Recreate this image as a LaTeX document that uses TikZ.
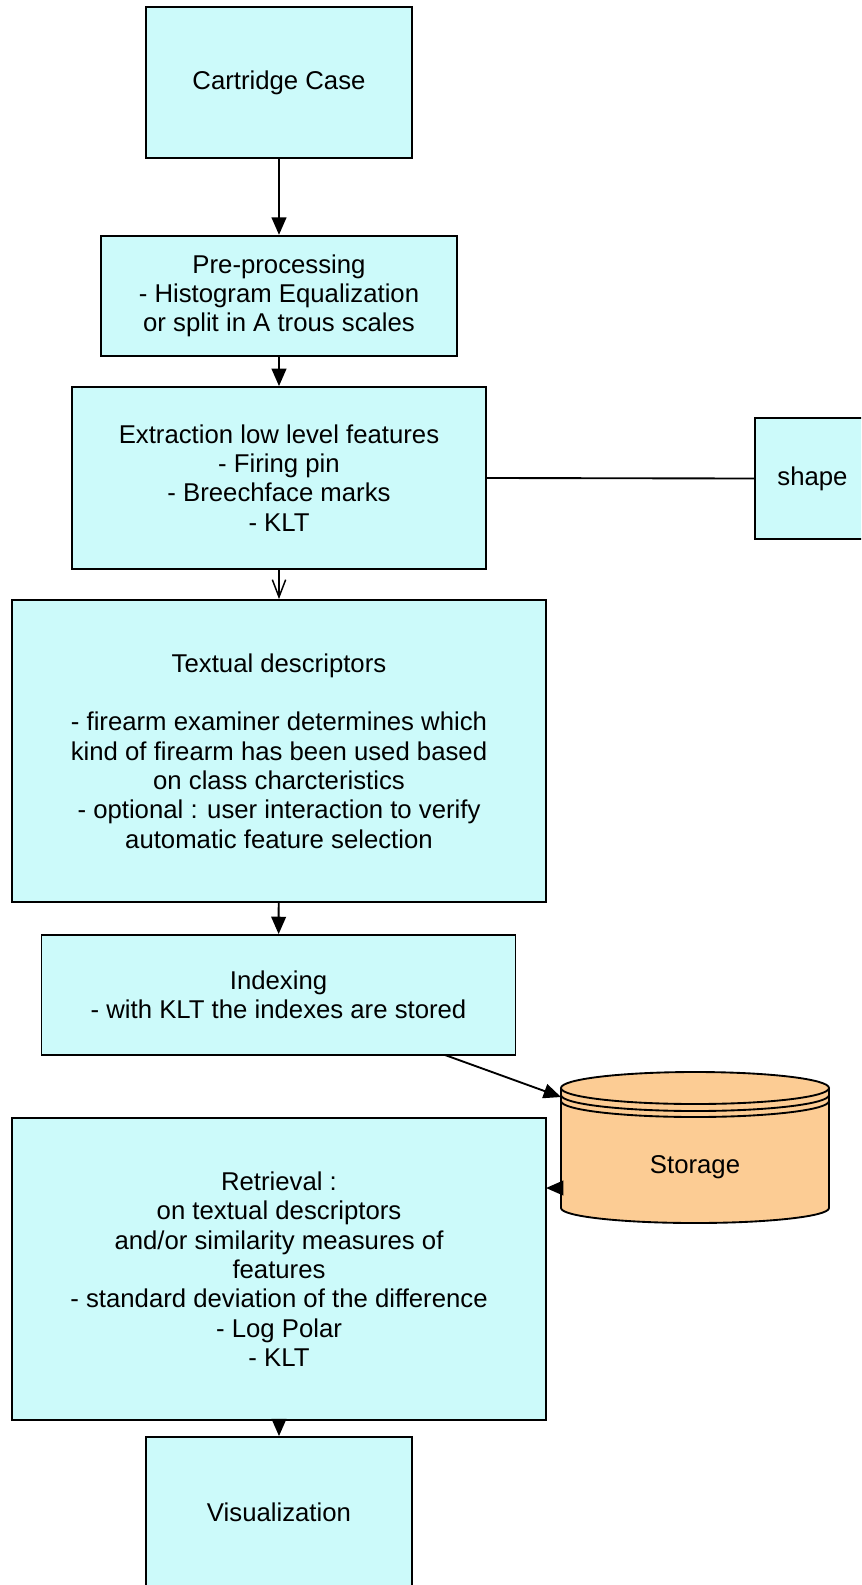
\documentclass[tikz,border=0pt]{standalone}
\usepackage{fontspec}
\setmainfont{Liberation Sans}
\usetikzlibrary{arrows.meta,calc}
\definecolor{boxfill}{RGB}{204,250,250}
\definecolor{storefill}{RGB}{252,204,148}
\begin{document}
\begin{tikzpicture}[x=0.75pt,y=-0.75pt,
  box/.style={draw=black,line width=1.4pt,fill=boxfill,rectangle,align=center,inner sep=0pt,
    font=\fontsize{19.3}{22}\selectfont},
  arr/.style={line width=1.4pt,-{Triangle[length=13pt,width=11pt]}},
  varr/.style={line width=1.4pt,-{Straight Barb[length=13pt,width=10pt,line width=1.1pt]}},
  plain/.style={line width=1.4pt}]
\useasboundingbox (0,0) rectangle (861,1585);
\begin{scope}
\clip (0,0) rectangle (861,1585);
\node[box,minimum width=0.75*265.5pt,minimum height=0.75*151pt] (cart) at (279,82.5) {Cartridge Case};
\node[box,minimum width=0.75*356pt,minimum height=0.75*120.5pt] (pre) at (279,296) {Pre-processing\\- Histogram Equalization\\or split in A trous scales};
\node[box,minimum width=0.75*414pt,minimum height=0.75*182pt] (ext) at (279,478) {Extraction low level features\\- Firing pin\\- Breechface marks\\- KLT};
\node[box,minimum width=0.75*115pt,minimum height=0.75*121pt] (shape) at (812.5,478.5) {shape};
\node[box,minimum width=0.75*534pt,minimum height=0.75*302pt] (text) at (279,751) {Textual descriptors\\[22pt]- firearm examiner determines which\\kind of firearm has been used based\\on class charcteristics\\- optional : user interaction to verify\\automatic feature selection};
\node[box,minimum width=0.75*474pt,minimum height=0.75*120pt] (index) at (278.5,995) {Indexing\\- with KLT the indexes are stored};
\node[box,minimum width=0.75*534pt,minimum height=0.75*302pt] (retr) at (279,1269) {Retrieval :\\on textual descriptors\\and/or similarity measures of\\features\\- standard deviation of the difference\\- Log Polar\\- KLT};
\node[box,minimum width=0.75*265.5pt,minimum height=0.75*151pt] (vis) at (279,1512.5) {Visualization};
% storage cylinder
\node[inner sep=0pt,minimum width=0.75*268pt,minimum height=0.75*151pt] (store) at (695,1147.5) {};
\fill[storefill] (561,1088) -- (561,1208) arc[start angle=180,end angle=0,x radius=134,y radius=15] -- (829,1088) -- cycle;
\fill[storefill] (695,1088) ellipse[x radius=134,y radius=16];
\draw[plain] (695,1088) ellipse[x radius=134,y radius=16];
\draw[plain] (561,1095) arc[start angle=180,end angle=0,x radius=134,y radius=16];
\draw[plain] (561,1101) arc[start angle=180,end angle=0,x radius=134,y radius=16];
\draw[plain] (561,1088) -- (561,1208) arc[start angle=180,end angle=0,x radius=134,y radius=15] -- (829,1088);
\node[font=\fontsize{19.3}{22}\selectfont] at (695,1167) {Storage};
\coordinate (sIn) at (561,1097);
\coordinate (sOut) at (561,1188);
\coordinate (iOut) at (445,1055);
\coordinate (rIn) at (546,1188);
% edges
\draw[arr] (cart) -- (pre);
\draw[arr] (pre) -- (ext);
\draw[varr] (ext) -- (text);
\draw[plain] (ext.east) -- (shape.west);
\draw[arr] (text) -- (index);
\draw[arr] (iOut) -- (sIn);
\draw[arr] (sOut) -- (rIn);
\draw[arr] (retr.south) -- (vis.north);
\end{scope}
\end{tikzpicture}
\end{document}
